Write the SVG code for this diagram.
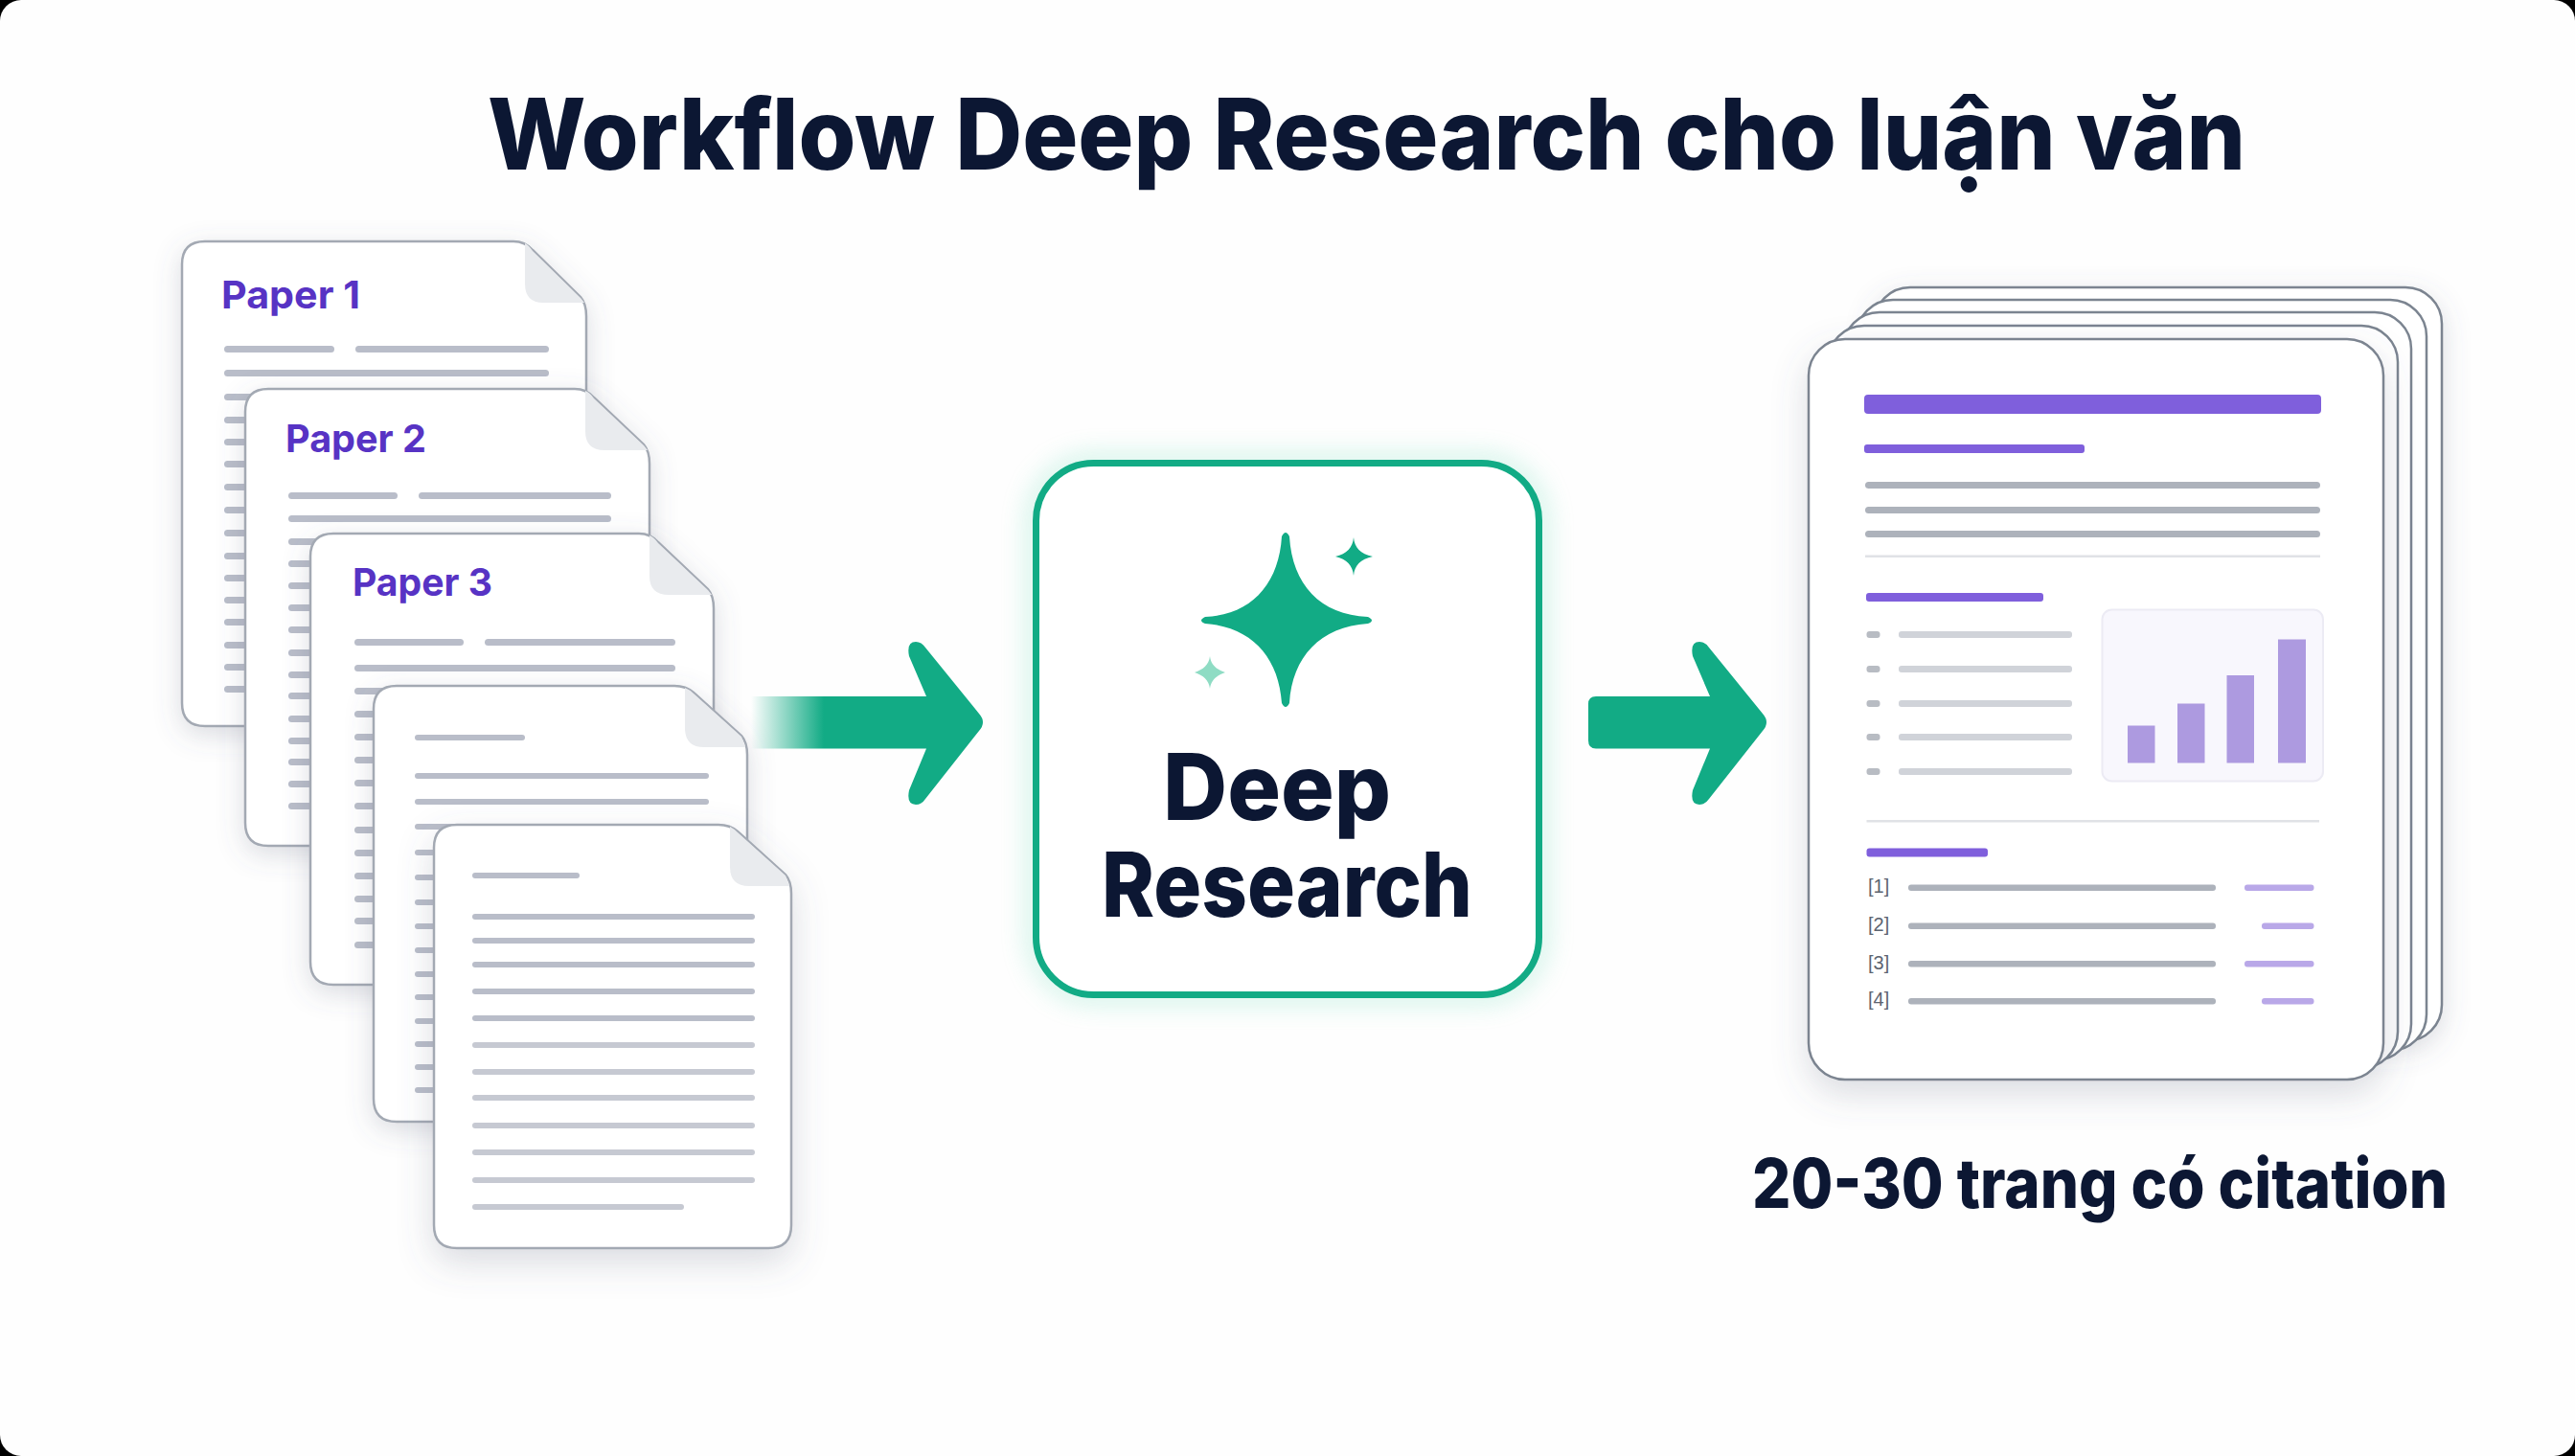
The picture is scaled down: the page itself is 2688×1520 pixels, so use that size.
<svg xmlns="http://www.w3.org/2000/svg" width="2688" height="1520" viewBox="0 0 2688 1520">
<defs>
<style>
.paper{fill:#fff;stroke:#a3a9b3;stroke-width:2.5}
.fold{fill:#e9ebee}
.ln{fill:#b9bdc9}
.ln2{fill:#c6c9d2}
.lbl{font-family:Inter,"Liberation Sans",Arial,sans-serif;font-weight:700;font-size:40px;fill:#5733c4}
.ttl{font-family:Inter,"Liberation Sans",Arial,sans-serif;font-weight:800;fill:#0c1733}
.page{fill:#fff;stroke:#7b8490;stroke-width:2.5}
.pur{fill:#7f5fdc}
.g1{fill:#adb2bb}
.g2{fill:#d0d3d9}
.g3{fill:#b8bcc3}
.dv{fill:#e0e2e6}
.bar{fill:#ad9ae0}
.cite{fill:#b9a8e8}
.ref{font-family:"Liberation Sans",Arial,sans-serif;font-size:20px;fill:#5d6470}
.grn{fill:#12ab85}
</style>
<filter id="sh" x="-20%" y="-20%" width="140%" height="140%"><feDropShadow dx="0" dy="8" stdDeviation="14" flood-color="#5a6478" flood-opacity=".22"/></filter>
<filter id="sh2" x="-20%" y="-20%" width="140%" height="140%"><feDropShadow dx="0" dy="14" stdDeviation="18" flood-color="#5a6478" flood-opacity=".22"/></filter>
<filter id="glow" x="-15%" y="-15%" width="130%" height="130%"><feGaussianBlur stdDeviation="14"/></filter>
<linearGradient id="fade" gradientUnits="userSpaceOnUse" x1="784" y1="0" x2="860" y2="0"><stop offset="0" stop-color="#12ab85" stop-opacity="0"/><stop offset="1" stop-color="#12ab85"/></linearGradient>
</defs>
<rect id="frame" width="2688" height="1520" fill="#000"/>
<rect id="background" width="2688" height="1520" rx="22" fill="#fefefe"/>

<text id="title" class="ttl" x="509" y="177" font-size="103" textLength="1835" lengthAdjust="spacingAndGlyphs">Workflow Deep Research cho luận văn</text>

<g id="paper-1">
<path class="paper" filter="url(#sh)" d="M214 252H536Q548 252 556 261L606 310Q612 317 612 330V734Q612 758 588 758H214Q190 758 190 734V276Q190 252 214 252Z"/>
<path class="fold" d="M548 254Q552 256 556 262L606 311L610 316H567Q548 316 548 296Z"/>
<text class="lbl" x="231" y="322" textLength="145" lengthAdjust="spacingAndGlyphs">Paper 1</text>
<g class="ln">
<rect x="234" y="361" width="115" height="7" rx="3.5"/><rect x="371" y="361" width="202" height="7" rx="3.5"/>
<rect x="234" y="386" width="339" height="7" rx="3.5"/><rect x="234" y="411" width="339" height="7" rx="3.5"/>
<rect x="234" y="435" width="339" height="7" rx="3.5"/><rect x="234" y="458" width="339" height="7" rx="3.5"/>
<rect x="234" y="481" width="339" height="7" rx="3.5"/><rect x="234" y="505" width="339" height="7" rx="3.5"/>
<rect x="234" y="529" width="339" height="7" rx="3.5"/><rect x="234" y="553" width="339" height="7" rx="3.5"/>
<rect x="234" y="577" width="339" height="7" rx="3.5"/><rect x="234" y="600" width="339" height="7" rx="3.5"/>
<rect x="234" y="623" width="339" height="7" rx="3.5"/><rect x="234" y="646" width="339" height="7" rx="3.5"/>
<rect x="234" y="670" width="339" height="7" rx="3.5"/><rect x="234" y="693" width="339" height="7" rx="3.5"/>
<rect x="234" y="716" width="339" height="7" rx="3.5"/>
</g>
</g>
<g id="paper-2">
<path class="paper" filter="url(#sh)" d="M280 406H600Q612 406 620 415L672 464Q678 471 678 484V859Q678 883 654 883H280Q256 883 256 859V430Q256 406 280 406Z"/>
<path class="fold" d="M611 408Q616 410 620 416L672 465L676 470H631Q611 470 611 450Z"/>
<text class="lbl" x="298" y="472" textLength="147" lengthAdjust="spacingAndGlyphs">Paper 2</text>
<g class="ln">
<rect x="301" y="514" width="114" height="7" rx="3.5"/><rect x="437" y="514" width="201" height="7" rx="3.5"/>
<rect x="301" y="538" width="337" height="7" rx="3.5"/><rect x="301" y="562" width="337" height="7" rx="3.5"/>
<rect x="301" y="585" width="337" height="7" rx="3.5"/><rect x="301" y="608" width="337" height="7" rx="3.5"/>
<rect x="301" y="631" width="337" height="7" rx="3.5"/><rect x="301" y="654" width="337" height="7" rx="3.5"/>
<rect x="301" y="678" width="337" height="7" rx="3.5"/><rect x="301" y="701" width="337" height="7" rx="3.5"/>
<rect x="301" y="723" width="337" height="7" rx="3.5"/><rect x="301" y="747" width="337" height="7" rx="3.5"/>
<rect x="301" y="770" width="337" height="7" rx="3.5"/><rect x="301" y="792" width="337" height="7" rx="3.5"/>
<rect x="301" y="815" width="337" height="7" rx="3.5"/><rect x="301" y="838" width="337" height="7" rx="3.5"/>
</g>
</g>
<g id="paper-3">
<path class="paper" filter="url(#sh)" d="M348 557H667Q679 557 687 566L739 615Q745 622 745 635V1004Q745 1028 721 1028H348Q324 1028 324 1004V581Q324 557 348 557Z"/>
<path class="fold" d="M678 559Q683 561 687 567L739 616L743 621H698Q678 621 678 601Z"/>
<text class="lbl" x="368" y="622" textLength="146" lengthAdjust="spacingAndGlyphs">Paper 3</text>
<g class="ln">
<rect x="370" y="667" width="114" height="7" rx="3.5"/><rect x="506" y="667" width="199" height="7" rx="3.5"/>
<rect x="370" y="694" width="335" height="7" rx="3.5"/><rect x="370" y="718" width="335" height="7" rx="3.5"/>
<rect x="370" y="742" width="335" height="7" rx="3.5"/><rect x="370" y="766" width="335" height="7" rx="3.5"/>
<rect x="370" y="790" width="335" height="7" rx="3.5"/><rect x="370" y="814" width="335" height="7" rx="3.5"/>
<rect x="370" y="838" width="335" height="7" rx="3.5"/><rect x="370" y="863" width="335" height="7" rx="3.5"/>
<rect x="370" y="887" width="335" height="7" rx="3.5"/><rect x="370" y="911" width="335" height="7" rx="3.5"/>
<rect x="370" y="935" width="335" height="7" rx="3.5"/><rect x="370" y="958" width="335" height="7" rx="3.5"/>
<rect x="370" y="983" width="335" height="7" rx="3.5"/>
</g>
</g>
<g id="paper-4">
<path class="paper" filter="url(#sh)" d="M414 716H704Q716 716 724 723L774 768Q780 775 780 788V1147Q780 1171 756 1171H414Q390 1171 390 1147V740Q390 716 414 716Z"/>
<path class="fold" d="M715 718Q720 720 724 724L774 769L778 780H735Q715 780 715 760Z"/>
<g class="ln">
<rect x="433" y="767" width="115" height="6" rx="3"/>
<rect x="433" y="807" width="307" height="6" rx="3"/><rect x="433" y="834" width="307" height="6" rx="3"/>
<rect x="433" y="860" width="307" height="6" rx="3"/><rect x="433" y="887" width="307" height="6" rx="3"/>
<rect x="433" y="913" width="307" height="6" rx="3"/><rect x="433" y="939" width="307" height="6" rx="3"/>
<rect x="433" y="964" width="307" height="6" rx="3"/><rect x="433" y="989" width="307" height="6" rx="3"/>
<rect x="433" y="1014" width="307" height="6" rx="3"/><rect x="433" y="1038" width="307" height="6" rx="3"/>
<rect x="433" y="1063" width="307" height="6" rx="3"/><rect x="433" y="1087" width="307" height="6" rx="3"/>
<rect x="433" y="1111" width="307" height="6" rx="3"/><rect x="433" y="1135" width="307" height="6" rx="3"/>
</g>
</g>
<g id="paper-5">
<path class="paper" filter="url(#sh2)" d="M477 861H750Q762 861 770 868L820 913Q826 920 826 933V1279Q826 1303 802 1303H477Q453 1303 453 1279V885Q453 861 477 861Z"/>
<path class="fold" d="M762 863Q766 865 770 869L820 914L824 925H782Q762 925 762 905Z"/>
<g class="ln">
<rect x="493" y="911" width="112" height="6" rx="3"/>
<rect x="493" y="954" width="295" height="6" rx="3"/><rect x="493" y="979" width="295" height="6" rx="3"/>
<rect x="493" y="1004" width="295" height="6" rx="3"/><rect x="493" y="1032" width="295" height="6" rx="3"/>
<rect x="493" y="1060" width="295" height="6" rx="3"/>
</g>
<g class="ln2">
<rect x="493" y="1088" width="295" height="6" rx="3"/><rect x="493" y="1116" width="295" height="6" rx="3"/>
<rect x="493" y="1143" width="295" height="6" rx="3"/><rect x="493" y="1172" width="295" height="6" rx="3"/>
<rect x="493" y="1200" width="295" height="6" rx="3"/><rect x="493" y="1229" width="295" height="6" rx="3"/>
<rect x="493" y="1257" width="221" height="6" rx="3"/>
</g>
</g>

<g id="connectors">
<path id="arrow-in" fill="url(#fade)" d="M784 727H967L949 685Q946 670 956 670Q962 670 966 676L1022 745Q1030 754 1022 763L966 834Q962 840 956 840Q946 840 949 825L967 781.500H784Z"/>
<path id="arrow-out" class="grn" d="M1666 727H1785L1767 685Q1764 670 1774 670Q1780 670 1784 676L1840 745Q1848 754 1840 763L1784 834Q1780 840 1774 840Q1764 840 1767 825L1785 781.500H1666Q1658 781.500 1658 773V735Q1658 727 1666 727Z"/>
</g>

<g id="deep-research">
<rect x="1081.500" y="483.500" width="525" height="555" rx="60" fill="none" stroke="#7fe0c0" stroke-width="12" opacity=".6" filter="url(#glow)"/>
<rect x="1081.500" y="483.500" width="525" height="555" rx="60" fill="#fff" stroke="#12ab85" stroke-width="7"/>
<path class="grn" d="M1338 560Q1342 552 1346 560C1349 610 1378 642 1428 644Q1436 648 1428 651C1378 654 1349 686 1346 734Q1342 742 1338 734C1335 686 1306 654 1258 651Q1250 648 1258 644C1306 642 1335 610 1338 560Z"/>
<path class="grn" d="M1413 561C1414 572 1420 578 1433 581C1420 584 1414 590 1413 601C1412 590 1406 584 1394 581C1406 578 1412 572 1413 561Z"/>
<path fill="#8fdcc4" d="M1263 685C1264 694 1270 699 1279 702C1270 705 1264 710 1263 719C1262 710 1256 705 1247 702C1256 699 1262 694 1263 685Z"/>
<text class="ttl" x="1214" y="856" font-size="96" textLength="238" lengthAdjust="spacingAndGlyphs">Deep</text>
<text class="ttl" x="1150" y="957" font-size="94" textLength="387" lengthAdjust="spacingAndGlyphs">Research</text>
</g>

<g id="report">
<rect class="page" filter="url(#sh)" x="1956" y="300" width="593" height="787" rx="38"/>
<rect class="page" x="1938" y="313" width="595" height="784" rx="38"/>
<rect class="page" x="1924" y="326" width="593" height="781" rx="38"/>
<rect class="page" x="1908" y="340" width="595" height="775" rx="38"/>
<rect class="page" filter="url(#sh2)" x="1888" y="354" width="600" height="773" rx="38"/>
<rect class="pur" x="1946" y="412" width="477" height="20" rx="4"/>
<rect class="pur" x="1946" y="464" width="230" height="9" rx="3"/>
<g class="g1"><rect x="1947" y="503" width="475" height="7" rx="3.500"/><rect x="1947" y="529" width="475" height="7" rx="3.500"/><rect x="1947" y="554" width="475" height="7" rx="3.500"/></g>
<rect class="dv" x="1947" y="579.500" width="475" height="2.500"/>
<rect class="pur" x="1948" y="619" width="185" height="9" rx="3"/>
<g class="g3"><rect x="1948.500" y="659" width="14" height="7" rx="3"/><rect x="1948.500" y="695" width="14" height="7" rx="3"/><rect x="1948.500" y="731" width="14" height="7" rx="3"/><rect x="1948.500" y="766" width="14" height="7" rx="3"/><rect x="1948.500" y="802" width="14" height="7" rx="3"/></g>
<g class="g2"><rect x="1982" y="659" width="181" height="7" rx="3"/><rect x="1982" y="695" width="181" height="7" rx="3"/><rect x="1982" y="731" width="181" height="7" rx="3"/><rect x="1982" y="766" width="181" height="7" rx="3"/><rect x="1982" y="802" width="181" height="7" rx="3"/></g>
<rect x="2194.500" y="636.500" width="230.500" height="179" rx="10" fill="#f8f7fd" stroke="#ecebf4" stroke-width="2"/>
<g class="bar"><rect x="2221" y="757.500" width="28.500" height="39"/><rect x="2273" y="734.500" width="28.500" height="62"/><rect x="2324.500" y="705" width="28.500" height="91.500"/><rect x="2378" y="667.500" width="29" height="129"/></g>
<rect class="dv" x="1948.500" y="856" width="472.500" height="2.500"/>
<rect class="pur" x="1948.500" y="885.500" width="126.500" height="9" rx="3"/>
<text class="ref" x="1950" y="932">[1]</text><text class="ref" x="1950" y="972">[2]</text><text class="ref" x="1950" y="1011.500">[3]</text><text class="ref" x="1950" y="1050">[4]</text>
<g class="g1"><rect x="1992" y="923.500" width="321" height="6.500" rx="3"/><rect x="1992" y="963.500" width="321" height="6.500" rx="3"/><rect x="1992" y="1003" width="321" height="6.500" rx="3"/><rect x="1992" y="1042" width="321" height="6.500" rx="3"/></g>
<g class="cite"><rect x="2343" y="923.500" width="72.500" height="6.500" rx="3"/><rect x="2361" y="963.500" width="54.500" height="6.500" rx="3"/><rect x="2343" y="1003" width="72.500" height="6.500" rx="3"/><rect x="2361" y="1042" width="54.500" height="6.500" rx="3"/></g>
</g>
<text id="caption" class="ttl" x="1829" y="1261" font-size="72" textLength="726" lengthAdjust="spacingAndGlyphs">20-30 trang có citation</text>
</svg>
